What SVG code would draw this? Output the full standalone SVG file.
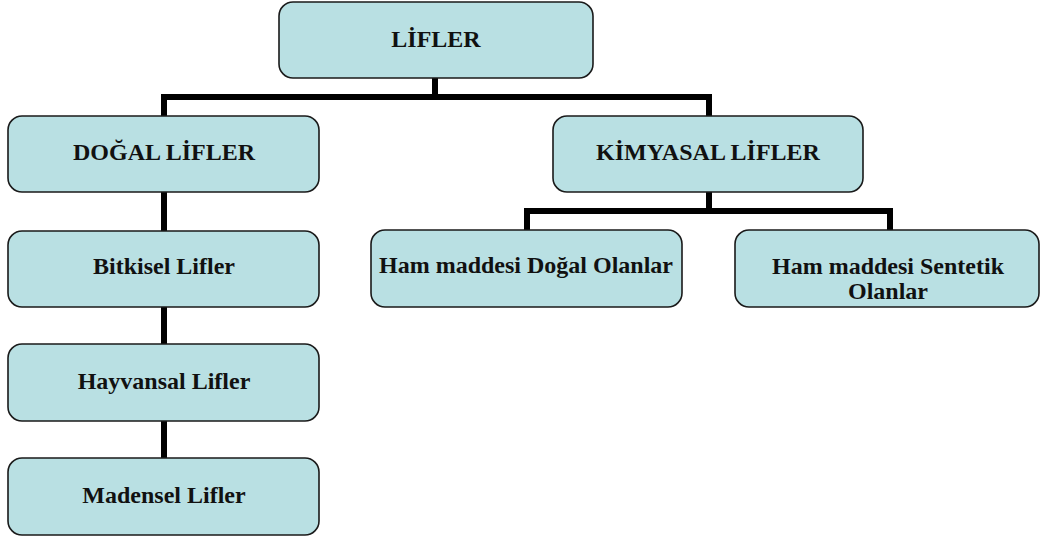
<svg xmlns="http://www.w3.org/2000/svg" width="1041" height="538" viewBox="0 0 1041 538">
<style>
.box{fill:#B9E0E3;stroke:#1a1a1a;stroke-width:1.6}
.t{font-family:"Liberation Serif","Times New Roman",serif;font-weight:bold;font-size:24px;fill:#111;text-anchor:middle}
.c{fill:none;stroke:#000;stroke-width:6;stroke-linejoin:miter;stroke-linecap:butt}
</style>
<rect width="1041" height="538" fill="#fff"/>
<g id="connectors">
<path class="c" d="M435 78 V97"/>
<path class="c" d="M164 116 V97 H709 V116"/>
<path class="c" d="M164 192 V231"/>
<path class="c" d="M164 307 V344"/>
<path class="c" d="M164 421 V458"/>
<path class="c" d="M709 192 V211"/>
<path class="c" d="M527 230 V211 H890 V230"/>
</g>
<g id="lifler">
<rect class="box" x="279" y="2" width="314" height="76" rx="14"/>
<text class="t" x="436" y="47">LİFLER</text>
</g>
<g id="dogal">
<rect class="box" x="8" y="116" width="311" height="76" rx="14"/>
<text class="t" x="164" y="160">DOĞAL LİFLER</text>
</g>
<g id="kimyasal">
<rect class="box" x="553" y="116" width="310" height="76" rx="14"/>
<text class="t" x="708" y="160">KİMYASAL LİFLER</text>
</g>
<g id="bitkisel">
<rect class="box" x="8" y="231" width="311" height="76" rx="14"/>
<text class="t" x="164" y="274">Bitkisel Lifler</text>
</g>
<g id="hayvansal">
<rect class="box" x="8" y="344" width="311" height="77" rx="14"/>
<text class="t" x="164" y="389">Hayvansal Lifler</text>
</g>
<g id="madensel">
<rect class="box" x="8" y="458" width="311" height="77" rx="14"/>
<text class="t" x="164" y="503">Madensel Lifler</text>
</g>
<g id="ham-dogal">
<rect class="box" x="371" y="230" width="311" height="77" rx="14"/>
<text class="t" x="526" y="273">Ham maddesi Doğal Olanlar</text>
</g>
<g id="ham-sentetik">
<rect class="box" x="735" y="230" width="304" height="77" rx="14"/>
<text class="t" x="888" y="274">Ham maddesi Sentetik</text>
<text class="t" x="888" y="299">Olanlar</text>
</g>
</svg>
